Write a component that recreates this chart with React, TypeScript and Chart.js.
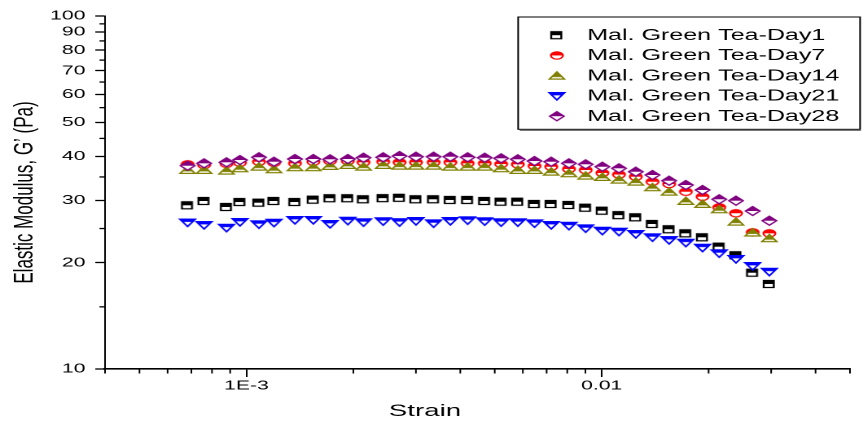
import React, { useEffect, useRef } from 'react';
import { Chart, registerables } from 'chart.js';

Chart.register(...registerables);

// ---------------- data ----------------
const strain = [
  6.83e-4, 7.6e-4, 8.79e-4, 9.59e-4, 1.085e-3, 1.196e-3, 1.37e-3, 1.543e-3, 1.72e-3, 1.93e-3,
  2.136e-3, 2.427e-3, 2.698e-3, 3.001e-3, 3.365e-3, 3.75e-3, 4.196e-3, 4.686e-3, 5.213e-3, 5.808e-3,
  6.471e-3, 7.211e-3, 8.089e-3, 9.014e-3, 1.0045e-2, 1.1189e-2, 1.2474e-2, 1.39e-2, 1.5485e-2, 1.7257e-2,
  1.9231e-2, 2.1424e-2, 2.3878e-2, 2.6611e-2, 2.965e-2,
];

const day1 = [
  29.09, 29.92, 28.77, 29.72, 29.59, 29.92, 29.72, 30.18, 30.46, 30.46,
  30.26, 30.48, 30.55, 30.26, 30.26, 30.12, 30.12, 29.92, 29.78, 29.78,
  29.34, 29.34, 29.15, 28.64, 28.08, 27.28, 26.9, 25.75, 24.88, 24.23,
  23.61, 22.21, 21.0, 18.74, 17.41,
];
const day7 = [
  38.01, 37.84, 38.15, 38.4, 38.66, 38.4, 38.25, 38.66, 38.83, 38.83,
  38.51, 38.66, 38.51, 38.51, 38.51, 38.51, 38.25, 38.25, 38.08, 38.01,
  37.59, 37.42, 36.86, 36.62, 35.92, 35.56, 35.06, 33.93, 33.43, 31.79,
  30.77, 28.71, 27.62, 24.39, 24.23,
];
const day14 = [
  36.62, 36.62, 36.46, 37.03, 37.42, 36.79, 37.28, 37.28, 37.59, 37.84,
  37.42, 37.84, 37.66, 37.66, 37.66, 37.42, 37.42, 37.42, 37.03, 36.62,
  36.62, 36.22, 35.84, 35.29, 34.99, 34.38, 33.93, 32.72, 31.79, 29.92,
  29.34, 28.34, 26.14, 24.35, 23.46,
];
const day21 = [
  26.0, 25.58, 25.13, 26.09, 25.7, 25.97, 26.43, 26.43, 25.75, 26.31,
  26.04, 26.22, 26.06, 26.26, 25.86, 26.26, 26.38, 26.21, 26.04, 26.04,
  25.86, 25.58, 25.46, 25.03, 24.65, 24.49, 24.12, 23.61, 23.19, 22.79,
  22.06, 21.27, 20.5, 19.58, 18.86,
];
const day28 = [
  37.66, 38.25, 38.51, 39.09, 39.79, 38.66, 39.34, 39.34, 39.27, 39.34,
  39.68, 39.79, 40.12, 39.94, 39.94, 39.94, 39.79, 39.68, 39.53, 39.27,
  38.83, 38.66, 38.25, 38.01, 37.42, 37.03, 36.22, 35.45, 34.15, 33.21,
  32.15, 30.26, 29.98, 28.03, 26.31,
];

const seriesLabels = [
  'Mal. Green Tea-Day1',
  'Mal. Green Tea-Day7',
  'Mal. Green Tea-Day14',
  'Mal. Green Tea-Day21',
  'Mal. Green Tea-Day28',
];
const seriesValues = [day1, day7, day14, day21, day28];
const seriesColors = ['#000000', '#ff0000', '#808000', '#0000ff', '#800080'];
const seriesMarkers = ['square', 'circle', 'triUp', 'triDown', 'diamond'];

const xTickValues = [0.001, 0.01];
const xTickLabels = ['1E-3', '0.01'];
const xMinorTicks = [
  4e-4, 5e-4, 6e-4, 7e-4, 8e-4, 9e-4,
  2e-3, 3e-3, 4e-3, 5e-3, 6e-3, 7e-3, 8e-3, 9e-3,
  0.02, 0.03, 0.04, 0.05,
];
const yTickValues = [10, 20, 30, 40, 50, 60, 70, 80, 90, 100];
const yTickLabels = ['10', '20', '30', '40', '50', '60', '70', '80', '90', '100'];
const yMinorTicks = [15, 25, 35, 45, 55, 65, 75, 85, 95];

const xTitle = 'Strain';
const yTitle = 'Elastic Modulus, G\u2019 (Pa)';

// ---------------- layout (unstretched canvas, stretched by CSS) ----------------
const CW = 530;
const CH = 425;
const STRETCH = 863 / CW;
const DPR = 2;
const MS = 12; // marker box size (css px)
const FONT = '"Liberation Sans", Arial, Helvetica, sans-serif';

Chart.defaults.font.family = FONT;
Chart.defaults.color = '#000';

function drawMarker(kind: string, color: string, scale: number): HTMLCanvasElement {
  const c = document.createElement('canvas');
  c.width = MS * scale;
  c.height = MS * scale;
  const ctx = c.getContext('2d')!;
  ctx.scale(scale, scale);
  const p = new Path2D();
  let cut = 6;
  if (kind === 'square') {
    p.rect(2.5, 2.5, 6.2, 7);
    cut = 6;
  } else if (kind === 'circle') {
    p.arc(6, 6, 3.7, 0, Math.PI * 2);
    cut = 6;
  } else if (kind === 'triUp') {
    p.moveTo(6, 2.2);
    p.lineTo(10.6, 9.4);
    p.lineTo(1.4, 9.4);
    p.closePath();
    cut = 7.4;
  } else if (kind === 'triDown') {
    p.moveTo(1.2, 2.6);
    p.lineTo(10.8, 2.6);
    p.lineTo(6, 10);
    p.closePath();
    cut = 5.4;
  } else {
    p.moveTo(6, 1.5);
    p.lineTo(10.4, 6);
    p.lineTo(6, 10.5);
    p.lineTo(1.6, 6);
    p.closePath();
    cut = 6;
  }
  ctx.fillStyle = '#ffffff';
  ctx.fill(p);
  ctx.save();
  ctx.beginPath();
  ctx.rect(0, 0, MS, cut);
  ctx.clip();
  ctx.fillStyle = color;
  ctx.fill(p);
  ctx.restore();
  ctx.strokeStyle = color;
  ctx.lineWidth = 1.2;
  ctx.stroke(p);
  return c;
}

const minorTicksPlugin = {
  id: 'minorTicks',
  afterDraw(chart: any) {
    const { ctx } = chart;
    const xs = chart.scales.x;
    const ys = chart.scales.y;
    ctx.save();
    ctx.strokeStyle = '#000';
    ctx.lineWidth = 1;
    for (const v of xMinorTicks) {
      const px = xs.getPixelForValue(v);
      ctx.beginPath();
      ctx.moveTo(px, xs.top);
      ctx.lineTo(px, xs.top + 4.5);
      ctx.stroke();
    }
    ctx.lineWidth = 1.3;
    for (const v of yMinorTicks) {
      const py = ys.getPixelForValue(v);
      ctx.beginPath();
      ctx.moveTo(ys.right, py);
      ctx.lineTo(ys.right - 3.4, py);
      ctx.stroke();
    }
    ctx.restore();
  },
};

const boxLegendPlugin = {
  id: 'boxLegend',
  afterDraw(chart: any) {
    const { ctx, chartArea } = chart;
    const left = chartArea.left + 253.7;
    const top = chartArea.top + 1;
    const w = 210;
    const h = 112.3;
    ctx.save();
    ctx.fillStyle = '#fff';
    ctx.fillRect(left, top, w, h);
    ctx.strokeStyle = '#000';
    ctx.lineWidth = 1;
    ctx.strokeRect(left, top, w, h);
    ctx.strokeStyle = '#777';
    ctx.lineWidth = 1.2;
    ctx.beginPath();
    ctx.moveTo(left + 1, top + h + 1.1);
    ctx.lineTo(left + w + 0.5, top + h + 1.1);
    ctx.stroke();
    ctx.font = `15.4px ${FONT}`;
    ctx.textBaseline = 'middle';
    ctx.textAlign = 'left';
    ctx.fillStyle = '#000';
    chart.data.datasets.forEach((ds: any, i: number) => {
      const y = top + 18.2 + i * 20.25;
      const img = ds.pointStyle as CanvasImageSource;
      ctx.drawImage(img, left + 23.8 - MS / 2, y - MS / 2, MS, MS);
      ctx.fillText(ds.label, left + 42.4, y + 0.5);
    });
    ctx.restore();
  },
};

export default function App() {
  const ref = useRef<HTMLCanvasElement>(null);

  useEffect(() => {
    const canvas = ref.current;
    if (!canvas) return;
    let alive = true;
    const order = [4, 3, 2, 1, 0];
    const datasets = seriesValues.map((vals, i) => ({
      label: seriesLabels[i],
      data: vals.map((v, j) => ({ x: strain[j], y: v })),
      pointStyle: drawMarker(seriesMarkers[i], seriesColors[i], 1) as any,
      pointRadius: 4,
      borderColor: seriesColors[i],
      backgroundColor: seriesColors[i],
      showLine: false,
      order: order[i],
    }));

    const chart = new Chart(canvas, {
      type: 'scatter',
      data: { datasets },
      options: {
        animation: false,
        responsive: false,
        devicePixelRatio: DPR,
        events: [],
        layout: { padding: { top: 16, right: 8, bottom: 0, left: 0 } },
        plugins: {
          legend: { display: false },
          tooltip: { enabled: false },
          title: {
            display: true,
            text: xTitle,
            position: 'bottom',
            color: '#000',
            font: { size: 17, weight: 'normal', family: FONT },
            padding: { top: 6, bottom: 3.6 },
          },
        },
        scales: {
          x: {
            type: 'logarithmic',
            position: 'bottom',
            min: 4e-4,
            max: 0.05,
            bounds: 'data',
            afterBuildTicks: (s: any) => {
              s.ticks = xTickValues.map((v) => ({ value: v }));
            },
            afterFit: (s: any) => {
              s.height = 26;
            },
            ticks: {
              autoSkip: false,
              maxRotation: 0,
              padding: 1,
              color: '#000',
              font: { size: 13, family: FONT },
              callback: (value: any) => {
                const i = xTickValues.findIndex((t) => Math.abs(t - value) / t < 1e-6);
                return i >= 0 ? xTickLabels[i] : '';
              },
            },
            grid: {
              drawOnChartArea: false,
              drawTicks: true,
              tickLength: 8,
              tickColor: '#000',
              tickWidth: 1,
            },
            border: { display: true, color: '#000', width: 1.6 },
          },
          y: {
            type: 'logarithmic',
            position: 'left',
            min: 10,
            max: 100,
            bounds: 'data',
            afterBuildTicks: (s: any) => {
              s.ticks = yTickValues.map((v) => ({ value: v }));
            },
            afterFit: (s: any) => {
              s.width = 64.5;
            },
            title: {
              display: true,
              text: yTitle,
              color: '#000',
              font: { size: 17, weight: 'normal', family: FONT },
              padding: { top: 5, bottom: 0 },
            },
            ticks: {
              autoSkip: false,
              padding: 6,
              color: '#000',
              font: { size: 13, family: FONT },
              callback: (value: any) => {
                const i = yTickValues.findIndex((t) => Math.abs(t - value) < 1e-6);
                return i >= 0 ? yTickLabels[i] : '';
              },
            },
            grid: {
              drawOnChartArea: false,
              drawTicks: true,
              tickLength: 6,
              tickColor: '#000',
              tickWidth: 1.3,
            },
            border: { display: true, color: '#000', width: 1 },
          },
        },
      },
      plugins: [minorTicksPlugin, boxLegendPlugin],
    } as any);

    // swap in high-resolution marker images (sized in css px) once decoded
    const imgs = seriesMarkers.map((k, i) => {
      const img = new Image();
      img.src = drawMarker(k, seriesColors[i], DPR).toDataURL();
      img.width = MS;
      img.height = MS;
      return img;
    });
    Promise.all(imgs.map((im) => im.decode()))
      .then(() => {
        if (!alive) return;
        chart.data.datasets.forEach((ds: any, i: number) => {
          ds.pointStyle = imgs[i];
        });
        chart.update();
      })
      .catch(() => {});

    return () => {
      alive = false;
      chart.destroy();
    };
  }, []);

  return (
    <div
      style={{
        position: 'absolute',
        left: 0,
        top: 0,
        width: CW,
        height: CH,
        transform: `scaleX(${STRETCH})`,
        transformOrigin: '0 0',
      }}
    >
      <canvas ref={ref} width={CW} height={CH} style={{ display: 'block' }} />
    </div>
  );
}
